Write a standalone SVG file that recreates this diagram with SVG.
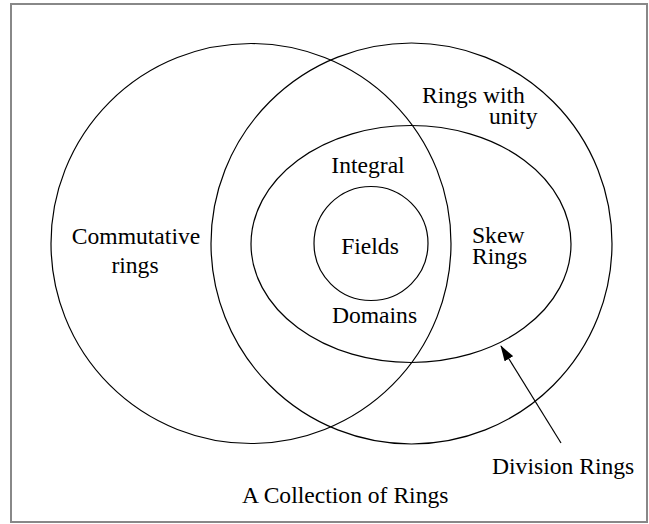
<svg xmlns="http://www.w3.org/2000/svg" width="649" height="524" viewBox="0 0 649 524">
<style>
.shape{fill:none;stroke:#000;stroke-width:1.2}
.t{font-family:"Liberation Serif",Tinos,"Times New Roman",Times,"Noto Serif","DejaVu Serif",serif;font-size:23.6px;fill:#000}
.m{text-anchor:middle}
</style>
<defs>
<marker id="ah" markerWidth="16" markerHeight="10" refX="15" refY="5" orient="auto" markerUnits="userSpaceOnUse">
<path d="M0,0 L16,5 L0,10 Z" fill="#000"/>
</marker>
</defs>
<rect x="11" y="4" width="636" height="518" fill="#fff" stroke="#888" stroke-width="2"/>
<g id="commutative">
<circle class="shape" cx="251" cy="243.5" r="200"/>
<text class="t m" x="136" y="244">Commutative</text>
<text class="t m" x="135" y="273">rings</text>
</g>
<g id="unity">
<circle class="shape" cx="411.5" cy="243.5" r="200.5"/>
<text class="t" x="422" y="103">Rings with</text>
<text class="t" x="489" y="124">unity</text>
</g>
<g id="division">
<ellipse class="shape" cx="411" cy="244" rx="160" ry="118.5"/>
<text class="t" x="472" y="243">Skew</text>
<text class="t" x="472" y="264">Rings</text>
<text class="t m" x="368" y="173">Integral</text>
<text class="t m" x="374.5" y="323">Domains</text>
</g>
<g id="fields">
<circle class="shape" cx="371" cy="243.5" r="57"/>
<text class="t m" x="370" y="254">Fields</text>
</g>
<g id="division-label">
<text class="t" x="492" y="474">Division Rings</text>
</g>
<g id="connectors">
<line class="shape" x1="561" y1="443" x2="501" y2="346" marker-end="url(#ah)"/>
</g>
<g id="caption">
<text class="t" x="242" y="503">A Collection of Rings</text>
</g>
</svg>
